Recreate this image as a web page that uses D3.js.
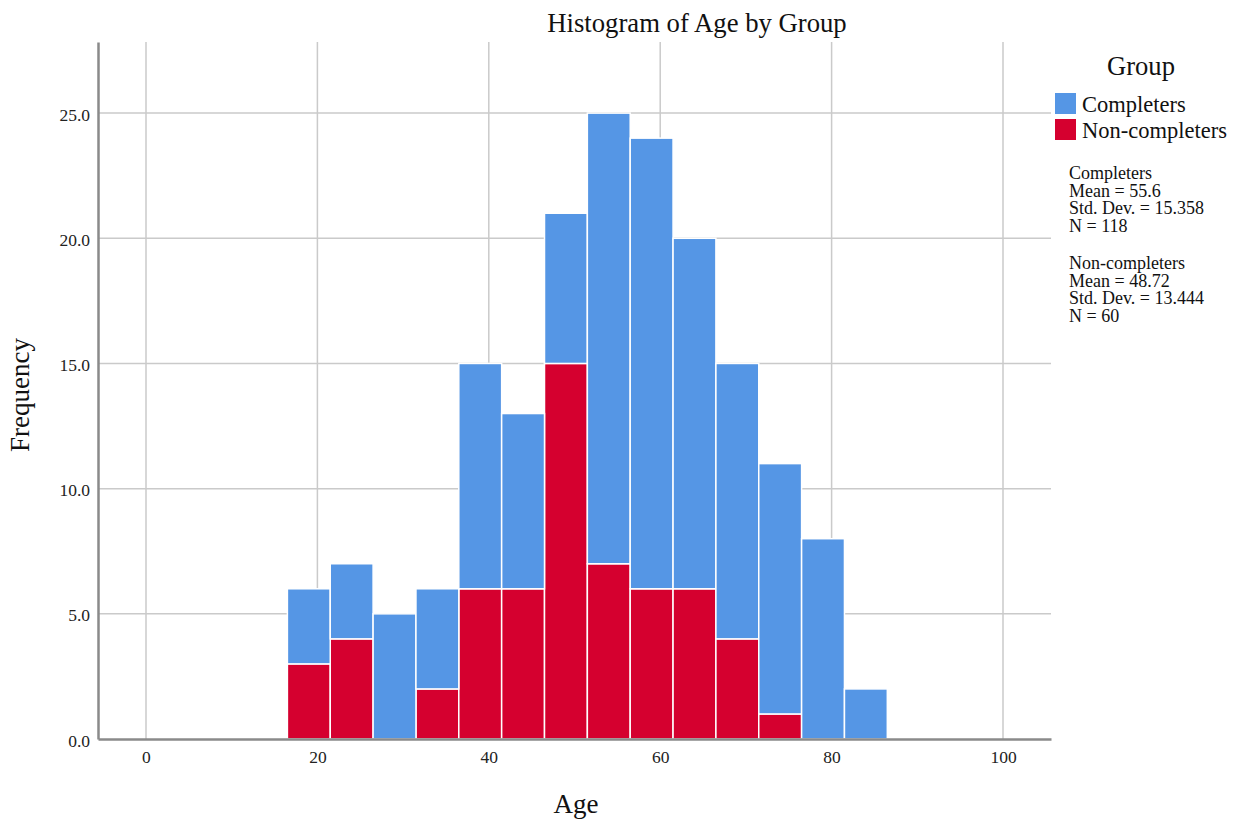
<!DOCTYPE html>
<html>
<head>
<meta charset="utf-8">
<script src="https://cdn.jsdelivr.net/npm/d3@7"></script>
<style>
  body { margin: 0; background: #fff; }
  svg { display: block; font-family: "Liberation Serif", "Times New Roman", serif; }
</style>
</head>
<body>
<div id="chart"></div>
<script>
// bins of width 5, left edges
const binStarts = [16.5, 21.5, 26.5, 31.5, 36.5, 41.5, 46.5, 51.5, 56.5, 61.5, 66.5, 71.5, 76.5, 81.5];
const binWidth = 5;
const nonCompleters = [3, 4, 0, 2, 6, 6, 15, 7, 6, 6, 4, 1, 0, 0];
const completers    = [3, 3, 5, 4, 9, 7, 6, 18, 18, 14, 11, 10, 8, 2];
const groups = ["Non-completers", "Completers"];
const legendOrder = ["Completers", "Non-completers"];
const xTicks = [0, 20, 40, 60, 80, 100];
const yTicks = [0, 5, 10, 15, 20, 25];
const statLines = [
  ["Completers", "Mean = 55.6", "Std. Dev. = 15.358", "N = 118"],
  ["Non-completers", "Mean = 48.72", "Std. Dev. = 13.444", "N = 60"]
];

const width = 1245, height = 821;
const color = d3.scaleOrdinal(groups, ["#D5002F", "#5596E5"]);

const rows = binStarts.map((x0, i) => ({
  x0: x0,
  x1: x0 + binWidth,
  "Non-completers": nonCompleters[i],
  "Completers": completers[i]
}));

const x = d3.scaleLinear().domain([-5.6, 105.6]).range([98, 1051]);
const y = d3.scaleLinear().domain([0, 27.84]).range([739, 42]);

const svg = d3.select("#chart").append("svg")
    .attr("width", width)
    .attr("height", height);

// gridlines
svg.append("g")
    .selectAll("line")
    .data(xTicks)
    .join("line")
    .attr("x1", d => x(d)).attr("x2", d => x(d))
    .attr("y1", y.range()[1]).attr("y2", y(0))
    .attr("stroke", "#cacaca")
    .attr("stroke-width", 1.5);

svg.append("g")
    .selectAll("line")
    .data(yTicks.filter(d => d > 0))
    .join("line")
    .attr("x1", x.range()[0]).attr("x2", x.range()[1])
    .attr("y1", d => y(d)).attr("y2", d => y(d))
    .attr("stroke", "#cacaca")
    .attr("stroke-width", 1.5);

// stacked bars
const series = d3.stack().keys(groups)(rows);

svg.append("g")
    .selectAll("g")
    .data(series)
    .join("g")
    .attr("fill", d => color(d.key))
    .selectAll("rect")
    .data(d => d.filter(s => s[1] > s[0]))
    .join("rect")
    .attr("x", d => x(d.data.x0))
    .attr("width", d => x(d.data.x1) - x(d.data.x0))
    .attr("y", d => y(d[1]))
    .attr("height", d => y(d[0]) - y(d[1]))
    .attr("stroke", "#fff")
    .attr("stroke-width", 1.5);

// axes
const xAxis = svg.append("g")
    .attr("transform", `translate(0,${y(0)})`)
    .call(d3.axisBottom(x).tickValues(xTicks).tickSize(0).tickPadding(12).tickFormat(d3.format("d")));
xAxis.select(".domain").attr("stroke", "#8a8a8a").attr("stroke-width", 2.5);
xAxis.selectAll("text").attr("font-size", 17.5).attr("font-family", "Liberation Serif").attr("fill", "#222");

const yAxis = svg.append("g")
    .attr("transform", `translate(${x.range()[0]},0)`)
    .call(d3.axisLeft(y).tickValues(yTicks).tickSize(0).tickPadding(8).tickFormat(d3.format(".1f")));
yAxis.select(".domain").attr("stroke", "#8a8a8a").attr("stroke-width", 2.5);
yAxis.selectAll("text").attr("font-size", 17.5).attr("font-family", "Liberation Serif").attr("fill", "#222").attr("dy", 7);

// titles
svg.append("text")
    .attr("x", 697).attr("y", 32)
    .attr("text-anchor", "middle")
    .attr("font-size", 26.7)
    .attr("fill", "#111")
    .text("Histogram of Age by Group");

svg.append("text")
    .attr("x", 576).attr("y", 813)
    .attr("text-anchor", "middle")
    .attr("font-size", 27)
    .attr("fill", "#111")
    .text("Age");

svg.append("text")
    .attr("transform", "translate(29,395) rotate(-90)")
    .attr("text-anchor", "middle")
    .attr("font-size", 27)
    .attr("fill", "#111")
    .text("Frequency");

// legend
const legend = svg.append("g");
legend.append("text")
    .attr("x", 1141).attr("y", 75)
    .attr("text-anchor", "middle")
    .attr("font-size", 26.6)
    .attr("fill", "#111")
    .text("Group");

const item = legend.selectAll("g.item")
    .data(legendOrder)
    .join("g")
    .attr("class", "item")
    .attr("transform", (d, i) => `translate(1055,${93 + i * 26})`);

item.append("rect")
    .attr("width", 21).attr("height", 21)
    .attr("fill", d => color(d));

item.append("text")
    .attr("x", 27).attr("y", 19)
    .attr("font-size", 22.5)
    .attr("fill", "#111")
    .text(d => d);

const stats = legend.selectAll("text.stat")
    .data(statLines)
    .join("text")
    .attr("class", "stat")
    .attr("x", 1069)
    .attr("y", (d, i) => 179 + i * 90)
    .attr("font-size", 18)
    .attr("fill", "#111");

stats.selectAll("tspan")
    .data(d => d)
    .join("tspan")
    .attr("x", 1069)
    .attr("dy", (d, i) => i === 0 ? 0 : 17.7)
    .text(d => d);
</script>
</body>
</html>
